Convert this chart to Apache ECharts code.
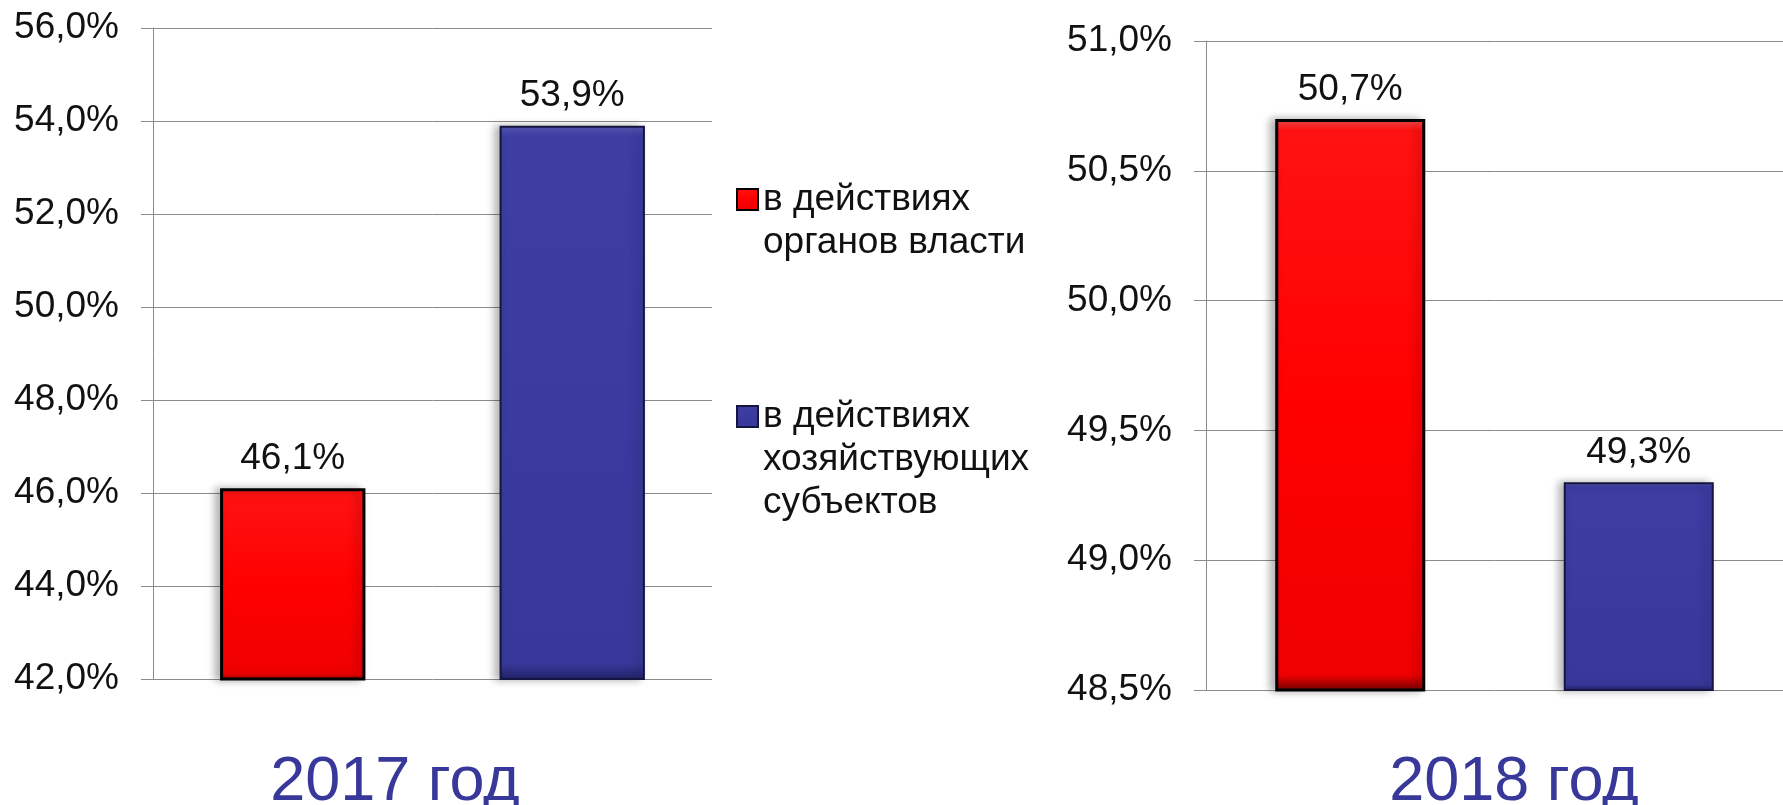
<!DOCTYPE html>
<html>
<head>
<meta charset="utf-8">
<title>2017 - 2018</title>
<script src="https://cdn.jsdelivr.net/npm/echarts@6/dist/echarts.min.js"></script>
<style>
  html, body { margin: 0; padding: 0; background: #fff; }
  #chart { width: 1783px; height: 805px; }
</style>
</head>
<body>
<div id="chart"></div>
<script>
// data
var years = ['2017 год', '2018 год']
var seriesNames = ['в действиях\nорганов власти', 'в действиях\nхозяйствующих\nсубъектов']
var authorities = [46.1, 50.7] // red bars
var businesses = [53.9, 49.3] // blue bars
var axisMin = [42, 48.5]
var axisMax = [56, 51]
var axisStep = [2, 0.5]

var font = '"Liberation Sans", Arial, sans-serif'

function pct(v) {
  return Number(v).toFixed(1).replace('.', ',') + '%'
}

var redStyle = {
  color: {
    type: 'linear', x: 0, y: 0, x2: 0, y2: 1,
    colorStops: [
      { offset: 0, color: '#ff5050' },
      { offset: 0.02, color: '#ff1212' },
      { offset: 0.5, color: '#ff0000' },
      { offset: 0.97, color: '#f00000' },
      { offset: 1, color: '#7a0000' }
    ]
  },
  borderColor: '#000',
  borderWidth: 3,
  shadowColor: 'rgba(0,0,0,0.3)',
  shadowBlur: 8,
  shadowOffsetX: -5
}
var blueStyle = {
  color: {
    type: 'linear', x: 0, y: 0, x2: 0, y2: 1,
    colorStops: [
      { offset: 0, color: '#5858b8' },
      { offset: 0.02, color: '#3d3da2' },
      { offset: 0.5, color: '#3a3a9f' },
      { offset: 0.97, color: '#38389a' },
      { offset: 1, color: '#22226a' }
    ]
  },
  borderColor: '#15153f',
  borderWidth: 2,
  shadowColor: 'rgba(0,0,0,0.3)',
  shadowBlur: 8,
  shadowOffsetX: -5
}

var grids = [
  { left: 153, top: 28, width: 559, height: 651 },
  { left: 1206, top: 41, width: 583, height: 649 }
]

var xAxes = []
var yAxes = []
var series = []
years.forEach(function(y, i) {
  xAxes.push({
    type: 'category',
    gridIndex: i,
    data: seriesNames,
    axisLine: { show: false },
    axisTick: { show: false },
    axisLabel: { show: false }
  })
  yAxes.push({
    type: 'value',
    gridIndex: i,
    min: axisMin[i],
    max: axisMax[i],
    interval: axisStep[i],
    axisLine: { show: true, lineStyle: { color: '#8c8c8c', width: 1 } },
    axisTick: { show: true, length: 12, lineStyle: { color: '#8c8c8c', width: 1 } },
    splitLine: { show: true, lineStyle: { color: '#8c8c8c', width: 1 } },
    axisLabel: {
      margin: 34,
      fontSize: 37,
      color: '#111',
      fontFamily: font,
      formatter: pct
    }
  })
  var label = {
    show: true,
    position: 'top',
    distance: 11,
    fontSize: 37,
    color: '#111',
    fontFamily: font,
    formatter: function(p) { return pct(p.value) }
  }
  series.push({
    name: seriesNames[0],
    type: 'bar',
    xAxisIndex: i,
    yAxisIndex: i,
    stack: 'y' + i,
    barWidth: '52%',
    itemStyle: redStyle,
    label: label,
    data: [authorities[i], '-']
  })
  series.push({
    name: seriesNames[1],
    type: 'bar',
    xAxisIndex: i,
    yAxisIndex: i,
    stack: 'y' + i,
    barWidth: '52%',
    itemStyle: blueStyle,
    label: label,
    data: ['-', businesses[i]]
  })
})

// legend icon sits on the first line: pad with empty lines above
function legendFor(idx, top) {
  var lines = seriesNames[idx].split('\n').length
  return {
    data: [{ name: seriesNames[idx], icon: 'rect' }],
    left: 736,
    top: top,
    padding: 0,
    itemWidth: 21,
    itemHeight: 21,
    selectedMode: false,
    formatter: function(name) {
      return new Array(lines).join('\n') + name
    },
    textStyle: {
      fontSize: 37,
      lineHeight: 43,
      color: '#111',
      fontFamily: font,
      padding: [0, 0, 18, 0]
    }
  }
}

var chart = echarts.init(document.getElementById('chart'))
chart.setOption({
  animation: false,
  textStyle: { fontFamily: font },
  title: [
    { text: years[0], left: 390, top: 746, textAlign: 'center',
      textStyle: { fontSize: 63, fontWeight: 'normal', color: '#38389a', fontFamily: font } },
    { text: years[1], left: 1509, top: 746, textAlign: 'center',
      textStyle: { fontSize: 63, fontWeight: 'normal', color: '#38389a', fontFamily: font } }
  ],
  legend: [legendFor(0, 126), legendFor(1, 300)],
  grid: grids,
  xAxis: xAxes,
  yAxis: yAxes,
  series: series
})
</script>
</body>
</html>
